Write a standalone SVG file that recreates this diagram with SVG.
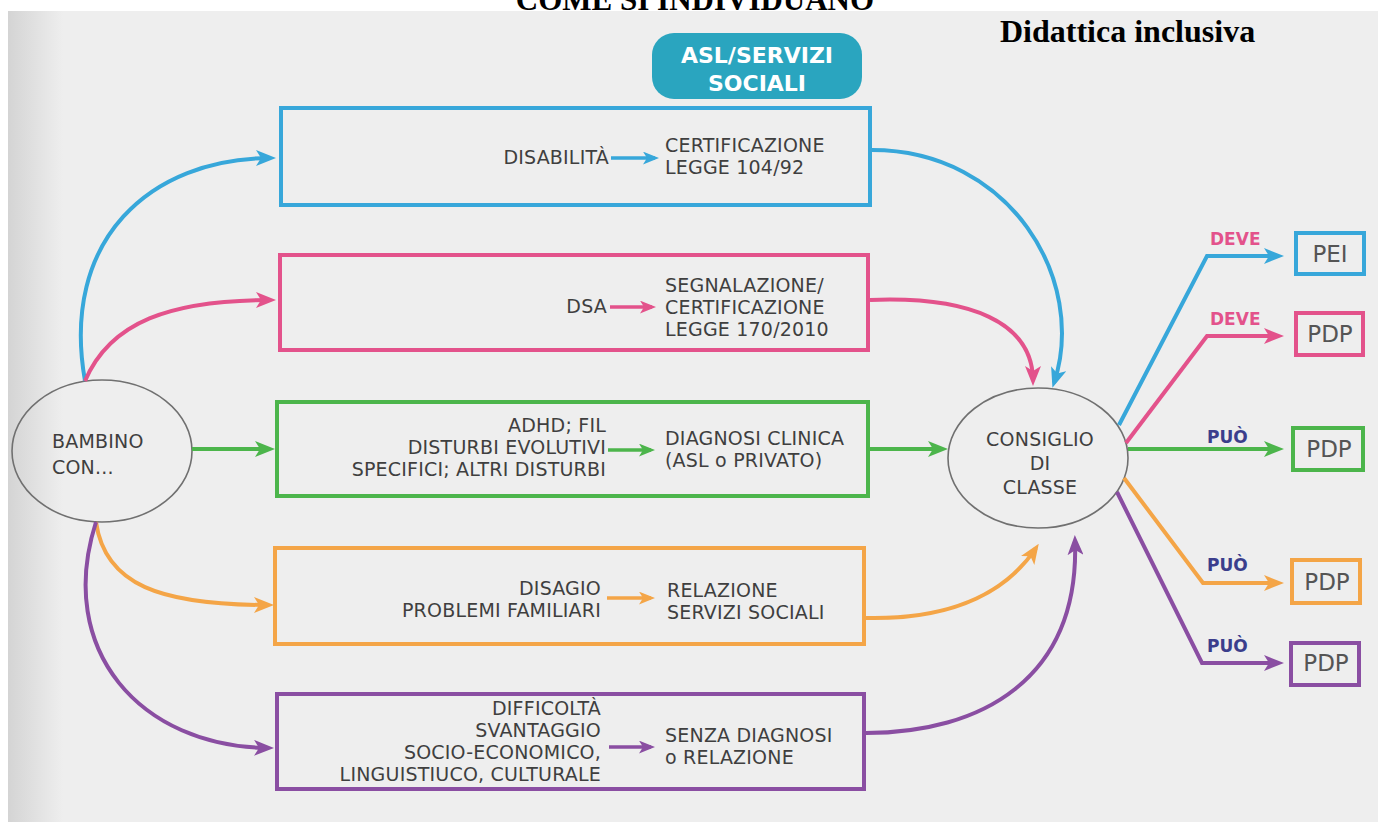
<svg xmlns="http://www.w3.org/2000/svg" width="1378" height="823" viewBox="0 0 1378 823">
<defs>
<linearGradient id="edge" x1="0" y1="0" x2="1" y2="0">
<stop offset="0" stop-color="#d4d4d4"/>
<stop offset="1" stop-color="#eeeeee"/>
</linearGradient>
<marker id="mBlue" markerUnits="userSpaceOnUse" viewBox="0 0 20 16" markerWidth="20" markerHeight="16" refX="15" refY="8" orient="auto"><path d="M0,0 L20,8 L0,16 L5,8 Z" fill="#37a7da"/></marker>
<marker id="mPink" markerUnits="userSpaceOnUse" viewBox="0 0 20 16" markerWidth="20" markerHeight="16" refX="15" refY="8" orient="auto"><path d="M0,0 L20,8 L0,16 L5,8 Z" fill="#e3528b"/></marker>
<marker id="mGreen" markerUnits="userSpaceOnUse" viewBox="0 0 20 16" markerWidth="20" markerHeight="16" refX="15" refY="8" orient="auto"><path d="M0,0 L20,8 L0,16 L5,8 Z" fill="#4cb54b"/></marker>
<marker id="mOrange" markerUnits="userSpaceOnUse" viewBox="0 0 20 16" markerWidth="20" markerHeight="16" refX="15" refY="8" orient="auto"><path d="M0,0 L20,8 L0,16 L5,8 Z" fill="#f4a547"/></marker>
<marker id="mPurple" markerUnits="userSpaceOnUse" viewBox="0 0 20 16" markerWidth="20" markerHeight="16" refX="15" refY="8" orient="auto"><path d="M0,0 L20,8 L0,16 L5,8 Z" fill="#8a4ea2"/></marker>
<marker id="sBlue" markerUnits="userSpaceOnUse" viewBox="0 0 20 16" markerWidth="16" markerHeight="13" refX="15" refY="8" orient="auto"><path d="M0,0 L20,8 L0,16 L5,8 Z" fill="#37a7da"/></marker>
<marker id="sPink" markerUnits="userSpaceOnUse" viewBox="0 0 20 16" markerWidth="16" markerHeight="13" refX="15" refY="8" orient="auto"><path d="M0,0 L20,8 L0,16 L5,8 Z" fill="#e3528b"/></marker>
<marker id="sGreen" markerUnits="userSpaceOnUse" viewBox="0 0 20 16" markerWidth="16" markerHeight="13" refX="15" refY="8" orient="auto"><path d="M0,0 L20,8 L0,16 L5,8 Z" fill="#4cb54b"/></marker>
<marker id="sOrange" markerUnits="userSpaceOnUse" viewBox="0 0 20 16" markerWidth="16" markerHeight="13" refX="15" refY="8" orient="auto"><path d="M0,0 L20,8 L0,16 L5,8 Z" fill="#f4a547"/></marker>
<marker id="sPurple" markerUnits="userSpaceOnUse" viewBox="0 0 20 16" markerWidth="16" markerHeight="13" refX="15" refY="8" orient="auto"><path d="M0,0 L20,8 L0,16 L5,8 Z" fill="#8a4ea2"/></marker>
</defs>
<style>
.t{font-family:"DejaVu Sans",Verdana,sans-serif;font-size:19px;fill:#3f3f3f;letter-spacing:0.2px}
.r{text-anchor:end}
.box{fill:none;stroke-width:4}
.ell{fill:none;stroke:#707070;stroke-width:1.6}
.c{fill:none;stroke-width:4;stroke-linecap:butt;stroke-linejoin:miter}
.ci{fill:none;stroke-width:3.5}
.lab{font-family:"DejaVu Sans",Verdana,sans-serif;font-size:17px;font-weight:bold}
.out{font-family:"DejaVu Sans",Verdana,sans-serif;font-size:23px;fill:#555;text-anchor:middle}
.serif{font-family:"Liberation Serif","Times New Roman",serif;font-weight:bold;fill:#000}
</style>
<rect x="0" y="0" width="1378" height="823" fill="#ffffff"/>
<rect x="8" y="11" width="1370" height="811" fill="#eeeeee"/>
<rect x="8" y="11" width="55" height="811" fill="url(#edge)"/>
<text class="serif" x="695" y="10" font-size="31" text-anchor="middle">COME SI INDIVIDUANO</text>
<text class="serif" x="1000" y="42" font-size="32">Didattica inclusiva</text>

<g id="asl">
<rect x="652" y="33" width="210" height="66" rx="22" fill="#2aa5bf"/>
<text x="757" y="63" font-family="'DejaVu Sans',Verdana,sans-serif" font-weight="bold" font-size="22" fill="#ffffff" text-anchor="middle">ASL/SERVIZI</text>
<text x="757" y="91" font-family="'DejaVu Sans',Verdana,sans-serif" font-weight="bold" font-size="22" fill="#ffffff" text-anchor="middle">SOCIALI</text>
</g>

<g id="bambino">
<ellipse class="ell" cx="102" cy="451" rx="90" ry="71"/>
<text class="t" x="52" y="448" font-size="22">BAMBINO</text>
<text class="t" x="52" y="474" font-size="22">CON...</text>
</g>

<g id="box-disabilita">
<rect class="box" x="281" y="108" width="589" height="97" stroke="#37a7da"/>
<text class="t r" x="609" y="164">DISABILITÀ</text>
<text class="t" x="665" y="152">CERTIFICAZIONE</text>
<text class="t" x="665" y="174">LEGGE 104/92</text>
</g>

<g id="box-dsa">
<rect class="box" x="280" y="255" width="588" height="95" stroke="#e3528b"/>
<text class="t r" x="607" y="313">DSA</text>
<text class="t" x="665" y="292">SEGNALAZIONE/</text>
<text class="t" x="665" y="314">CERTIFICAZIONE</text>
<text class="t" x="665" y="336">LEGGE 170/2010</text>
</g>

<g id="box-adhd">
<rect class="box" x="277" y="402" width="591" height="94" stroke="#4cb54b"/>
<text class="t r" x="606" y="432">ADHD; FIL</text>
<text class="t r" x="606" y="454">DISTURBI EVOLUTIVI</text>
<text class="t r" x="606" y="476">SPECIFICI; ALTRI DISTURBI</text>
<text class="t" x="665" y="445">DIAGNOSI CLINICA</text>
<text class="t" x="665" y="467">(ASL o PRIVATO)</text>
</g>

<g id="box-disagio">
<rect class="box" x="275" y="548" width="589" height="96" stroke="#f4a547"/>
<text class="t r" x="601" y="595">DISAGIO</text>
<text class="t r" x="601" y="617">PROBLEMI FAMILIARI</text>
<text class="t" x="667" y="597">RELAZIONE</text>
<text class="t" x="667" y="619">SERVIZI SOCIALI</text>
</g>

<g id="box-difficolta">
<rect class="box" x="277" y="694" width="587" height="95" stroke="#8a4ea2"/>
<text class="t r" x="601" y="715">DIFFICOLTÀ</text>
<text class="t r" x="601" y="737">SVANTAGGIO</text>
<text class="t r" x="601" y="759">SOCIO-ECONOMICO,</text>
<text class="t r" x="601" y="781">LINGUISTIUCO, CULTURALE</text>
<text class="t" x="665" y="742">SENZA DIAGNOSI</text>
<text class="t" x="665" y="764">o RELAZIONE</text>
</g>

<g id="consiglio">
<ellipse class="ell" cx="1038" cy="458" rx="90" ry="70"/>
<text class="t" x="1040" y="446" font-size="22" text-anchor="middle">CONSIGLIO</text>
<text class="t" x="1040" y="470" font-size="22" text-anchor="middle">DI</text>
<text class="t" x="1040" y="494" font-size="22" text-anchor="middle">CLASSE</text>
</g>

<g id="pei-blue">
<rect class="box" x="1296" y="233" width="68" height="41" stroke="#37a7da"/>
<text class="out" x="1330" y="262">PEI</text>
</g>
<g id="pdp-pink">
<rect class="box" x="1296" y="313" width="67" height="42" stroke="#e3528b"/>
<text class="out" x="1330" y="342">PDP</text>
</g>
<g id="pdp-green">
<rect class="box" x="1293" y="428" width="70" height="42" stroke="#4cb54b"/>
<text class="out" x="1329" y="457">PDP</text>
</g>
<g id="pdp-orange">
<rect class="box" x="1292" y="560" width="68" height="43" stroke="#f4a547"/>
<text class="out" x="1327" y="590">PDP</text>
</g>
<g id="pdp-purple">
<rect class="box" x="1291" y="643" width="68" height="42" stroke="#8a4ea2"/>
<text class="out" x="1326" y="671">PDP</text>
</g>

<g id="connectors">
<path class="c" d="M85,381 C60,240 150,158 271,158" stroke="#37a7da" marker-end="url(#mBlue)"/>
<path class="c" d="M85,381 C110,322 170,300 271,300" stroke="#e3528b" marker-end="url(#mPink)"/>
<path class="c" d="M192,449 L270,449" stroke="#4cb54b" marker-end="url(#mGreen)"/>
<path class="c" d="M96,522 C105,585 160,605 269,605" stroke="#f4a547" marker-end="url(#mOrange)"/>
<path class="c" d="M96,522 C55,650 140,747 269,748" stroke="#8a4ea2" marker-end="url(#mPurple)"/>

<path class="ci" d="M611,158 L655,158" stroke="#37a7da" marker-end="url(#sBlue)"/>
<path class="ci" d="M610,307 L652,307" stroke="#e3528b" marker-end="url(#sPink)"/>
<path class="ci" d="M608,450 L651,450" stroke="#4cb54b" marker-end="url(#sGreen)"/>
<path class="ci" d="M607,598 L651,598" stroke="#f4a547" marker-end="url(#sOrange)"/>
<path class="ci" d="M609,747 L651,747" stroke="#8a4ea2" marker-end="url(#sPurple)"/>

<path class="c" d="M872,150 C1010,150 1088,280 1054,383" stroke="#37a7da" marker-end="url(#mBlue)"/>
<path class="c" d="M870,300 C970,296 1033,322 1033,381" stroke="#e3528b" marker-end="url(#mPink)"/>
<path class="c" d="M870,449 L943,449" stroke="#4cb54b" marker-end="url(#mGreen)"/>
<path class="c" d="M866,618 C960,620 1010,587 1036,548" stroke="#f4a547" marker-end="url(#mOrange)"/>
<path class="c" d="M866,733 C980,733 1080,680 1075,540" stroke="#8a4ea2" marker-end="url(#mPurple)"/>

<path class="c" d="M1119,425 L1207,256 L1279,256" stroke="#37a7da" marker-end="url(#mBlue)"/>
<path class="c" d="M1126,443 L1207,336 L1279,336" stroke="#e3528b" marker-end="url(#mPink)"/>
<path class="c" d="M1128,449 L1279,449" stroke="#4cb54b" marker-end="url(#mGreen)"/>
<path class="c" d="M1124,478 L1203,583 L1279,583" stroke="#f4a547" marker-end="url(#mOrange)"/>
<path class="c" d="M1117,492 L1202,663 L1279,663" stroke="#8a4ea2" marker-end="url(#mPurple)"/>
</g>

<g id="labels">
<text class="lab" x="1210" y="245" fill="#e3528b">DEVE</text>
<text class="lab" x="1210" y="325" fill="#e3528b">DEVE</text>
<text class="lab" x="1207" y="443" fill="#3b3e8c">PUÒ</text>
<text class="lab" x="1207" y="571" fill="#3b3e8c">PUÒ</text>
<text class="lab" x="1207" y="652" fill="#3b3e8c">PUÒ</text>
</g>
</svg>
